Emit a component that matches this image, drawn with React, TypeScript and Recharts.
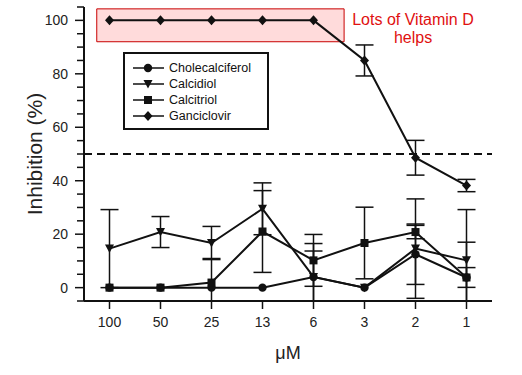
import React from 'react'
import {
  LineChart,
  Line,
  XAxis,
  YAxis,
  ErrorBar,
  ReferenceLine,
  ReferenceArea,
  Legend,
  Label,
} from 'recharts'

const concentrations = ['100', '50', '25', '13', '6', '3', '2', '1']

// error bars as [below, above]
const cholecalciferol = [0, 0, 0, 0, 4, 0, 12.5, 3.8]
const cholecalciferolErr = [null, null, null, null, [9, 12.5], null, [11.3, 11.3], [3.7, 3.7]]
const calcidiol = [14.6, 20.8, 16.7, 29.5, 4, 0, 14.6, 10.2]
const calcidiolErr = [[14.6, 14.6], [5.8, 5.8], [6.2, 6.2], [9.7, 9.7], [9, 9.7], null, [18.6, 18.6], [15.2, 19]]
const calcitriol = [0, 0, 1.9, 21, 10.2, 16.7, 20.8, 3.8]
const calcitriolErr = [null, null, [6.9, 9], [15.3, 15.3], [9.7, 9.7], [13.4, 13.4], [2.5, 2.5], [8.8, 13.2]]
const ganciclovir = [100, 100, 100, 100, 100, 85, 48.6, 38.2]
const ganciclovirErr = [null, null, null, null, null, [5.8, 5.8], [6.5, 6.5], [2.3, 2.3]]

const yTicks = [-5, 0, 5, 10, 15, 20, 25, 30, 35, 40, 45, 50, 55, 60, 65, 70, 75, 80, 85, 90, 95, 100, 105]
const yLabels = [0, 20, 40, 60, 80, 100]

const FONT = '"Liberation Sans", Arial, sans-serif'

type Kind = 'circle' | 'triangle' | 'square' | 'diamond'

const series: { key: string; name: string; kind: Kind }[] = [
  { key: 'cholecalciferol', name: 'Cholecalciferol', kind: 'circle' },
  { key: 'calcidiol', name: 'Calcidiol', kind: 'triangle' },
  { key: 'calcitriol', name: 'Calcitriol', kind: 'square' },
  { key: 'ganciclovir', name: 'Ganciclovir', kind: 'diamond' },
]

const data = concentrations.map((c, i) => ({
  x: i,
  cholecalciferol: cholecalciferol[i],
  cholecalciferolErr: cholecalciferolErr[i],
  calcidiol: calcidiol[i],
  calcidiolErr: calcidiolErr[i],
  calcitriol: calcitriol[i],
  calcitriolErr: calcitriolErr[i],
  ganciclovir: ganciclovir[i],
  ganciclovirErr: ganciclovirErr[i],
}))

function Marker({ kind, cx, cy }: { kind: Kind; cx: number; cy: number }) {
  if (cx == null || cy == null) return null
  const fill = '#111'
  if (kind === 'circle') return <circle cx={cx} cy={cy} r={4.2} fill={fill} />
  if (kind === 'square')
    return <rect x={cx - 4} y={cy - 4} width={8} height={8} fill={fill} />
  if (kind === 'triangle')
    return (
      <polygon
        points={`${cx - 4.5},${cy - 4} ${cx + 4.5},${cy - 4} ${cx},${cy + 4.5}`}
        fill={fill}
      />
    )
  return (
    <polygon
      points={`${cx},${cy - 5} ${cx + 4.5},${cy} ${cx},${cy + 5} ${cx - 4.5},${cy}`}
      fill={fill}
    />
  )
}

function YTick(props: any) {
  const { x, y, payload } = props
  const v = payload.value
  const major = yLabels.includes(v)
  const axisX = x + 8
  return (
    <g>
      <line x1={axisX - (major ? 9 : 7)} x2={axisX} y1={y} y2={y} stroke="#111" strokeWidth={1.5} />
      {major && (
        <text
          x={axisX - 16}
          y={y}
          dy={5}
          textAnchor="end"
          fontSize={14}
          fontFamily={FONT}
          fill="#222"
        >
          {v}
        </text>
      )}
    </g>
  )
}

function LegendBox() {
  return (
    <div
      style={{
        border: '2px solid #111',
        width: 136,
        padding: '6px 0 4px 6px',
        background: '#fff',
        fontFamily: FONT,
        fontSize: 12.5,
        color: '#111',
      }}
    >
      {series.map((s) => (
        <div key={s.key} style={{ display: 'flex', alignItems: 'center', height: 16 }}>
          <svg width={36} height={14}>
            <line x1={2} x2={33} y1={7} y2={7} stroke="#111" strokeWidth={1.5} />
            <Marker kind={s.kind} cx={17} cy={7} />
          </svg>
          <span style={{ marginLeft: 2 }}>{s.name}</span>
        </div>
      ))}
    </div>
  )
}

export default function App() {
  return (
    <div style={{ position: 'absolute', left: 0, top: 0, width: 522, height: 375, background: '#fff' }}>
      <LineChart
        width={522}
        height={375}
        data={data}
        margin={{ top: 7, right: 30, bottom: 0, left: 0 }}
      >
        <ReferenceArea
          x1={-0.25}
          x2={4.6}
          y1={92}
          y2={104.3}
          fill="#f00"
          fillOpacity={0.14}
          stroke="#c80000"
          strokeWidth={1}
          ifOverflow="visible"
        />
        <ReferenceLine y={50} stroke="#111" strokeWidth={2} strokeDasharray="8 5" />
        <XAxis
          dataKey="x"
          type="number"
          domain={[-0.5, 7.5]}
          ticks={concentrations.map((_, i) => i)}
          tickFormatter={(i: number) => concentrations[i]}
          height={74}
          tickSize={8}
          tickMargin={8}
          axisLine={{ stroke: '#111', strokeWidth: 2 }}
          tickLine={{ stroke: '#111', strokeWidth: 1.5 }}
          tick={{ fontSize: 14, fontFamily: FONT, fill: '#222' }}
        >
          <Label
            value="μM"
            position="insideBottom"
            offset={16}
            style={{ fontSize: 18, fontFamily: FONT, fill: '#222' }}
          />
        </XAxis>
        <YAxis
          type="number"
          domain={[-5, 105]}
          ticks={yTicks}
          interval={0}
          allowDataOverflow
          width={84}
          tickSize={8}
          tickMargin={0}
          tickLine={false}
          axisLine={{ stroke: '#111', strokeWidth: 2 }}
          tick={<YTick />}
        >
          <Label
            value="Inhibition (%)"
            angle={-90}
            position="insideLeft"
            offset={35}
            style={{ fontSize: 21, fontFamily: FONT, fill: '#222', textAnchor: 'middle' }}
          />
        </YAxis>
        <Legend
          layout="vertical"
          align="center"
          verticalAlign="middle"
          wrapperStyle={{ position: 'absolute', left: 123, top: 52, width: 140 }}
          content={() => <LegendBox />}
        />
        {series.map((s) => (
          <Line
            key={s.key}
            dataKey={s.key}
            name={s.name}
            stroke="#111"
            strokeWidth={2}
            isAnimationActive={false}
            dot={(p: any) => <Marker key={`${s.key}-${p.index}`} kind={s.kind} cx={p.cx} cy={p.cy} />}
            activeDot={false}
          >
            <ErrorBar
              dataKey={`${s.key}Err`}
              direction="y"
              width={9}
              stroke="#111"
              strokeWidth={1.5}
              isAnimationActive={false}
            />
          </Line>
        ))}
      </LineChart>
      <div
        style={{
          position: 'absolute',
          left: 330,
          top: 11,
          width: 166,
          textAlign: 'center',
          color: '#e01010',
          fontFamily: FONT,
          fontSize: 16,
          lineHeight: '18px',
        }}
      >
        Lots of Vitamin D
        <br />
        helps
      </div>
    </div>
  )
}
